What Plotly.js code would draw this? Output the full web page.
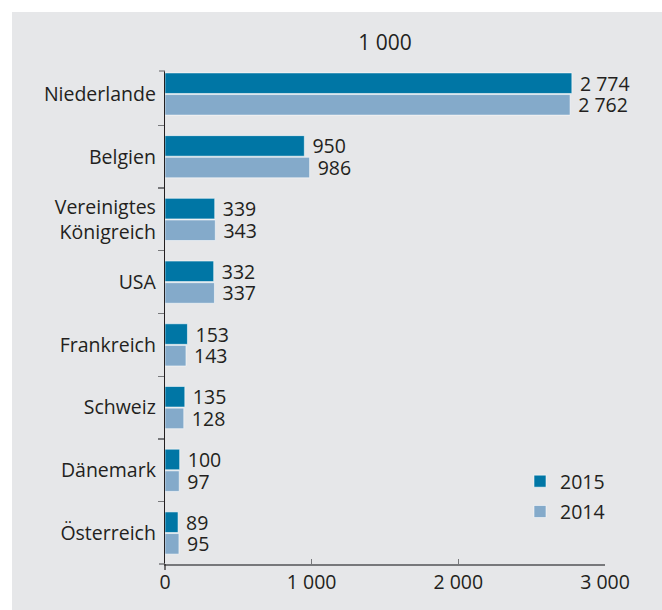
<!DOCTYPE html>
<html><head><meta charset="utf-8">
<script src="https://cdn.plot.ly/plotly-3.0.1.min.js"></script>
<style>html,body{margin:0;padding:0;background:#fff}</style>
</head><body>
<div id="chart" style="width:662px;height:610px"></div>
<script>
const categories = ["Niederlande","Belgien","Vereinigtes<br>Königreich","USA","Frankreich","Schweiz","Dänemark","Österreich"];
const values2015 = [2774, 950, 339, 332, 153, 135, 100, 89];
const values2014 = [2762, 986, 343, 337, 143, 128, 97, 95];
const xTicks = [0, 1000, 2000, 3000];
const unitTitle = "1 000";

const FONT = "Open Sans, Noto Sans, sans-serif";
const TXT = "#231f20";
const FS = 19.5;
const W = 440, H = 493;

function trace(name, vals, color, grp) {
  return {
    type: "bar", orientation: "h", name: name, legendgroup: grp,
    y: categories, x: vals,
    marker: {color: color, line: {color: "rgba(255,255,255,0.55)", width: 1}},
    text: vals, texttemplate: "\u00a0%{x:,d}", textposition: "outside",
    constraintext: "none", cliponaxis: false,
    textfont: {family: FONT, size: FS, color: TXT},
    hoverinfo: "skip"
  };
}

const data = [
  trace("2015", values2015, "#0076a5", "a"),
  trace("2014", values2014, "#84aaca", "b")
];

const layout = {
  width: 662, height: 610,
  margin: {l: 165, r: 57, t: 71, b: 46},
  paper_bgcolor: "#e6e7e9", plot_bgcolor: "rgba(0,0,0,0)",
  separators: ", ",
  font: {family: FONT, size: FS, color: TXT},
  barmode: "group", bargap: 0.31, bargroupgap: 0.05,
  showlegend: true,
  legend: {x: (520-165)/W, xanchor: "left", y: (564-462)/H, yanchor: "top",
           bgcolor: "rgba(0,0,0,0)", font: {family: FONT, size: FS, color: TXT},
           traceorder: "grouped", tracegroupgap: 2},
  title: {text: unitTitle, x: 0.5, xref: "paper", xanchor: "center",
          y: 1 - 43/610, yref: "container", yanchor: "middle",
          font: {family: FONT, size: 21, color: TXT}},
  xaxis: {range: [0, 3000], tickvals: xTicks, tickformat: ",d",
          showgrid: false, zeroline: false, showline: true, linecolor: "#77787b", linewidth: 1.5,
          ticks: "inside", ticklen: 5, tickcolor: "#77787b", tickwidth: 1.5,
          tickfont: {family: FONT, size: FS, color: TXT}, fixedrange: true},
  yaxis: {type: "category", range: [7.494, -0.367], tickson: "boundaries",
          showgrid: false, zeroline: false, showline: true, linecolor: "#231f20", linewidth: 1.2,
          ticks: "outside", ticklen: 6, tickcolor: "#77787b", tickwidth: 1.2,
          ticklabelstandoff: 4,
          tickfont: {family: FONT, size: FS, color: TXT}, fixedrange: true},
  shapes: [
    {type: "rect", xref: "paper", yref: "paper", x0: -165/W, x1: (12-165)/W, y0: -46/H, y1: 1 + 71/H,
     fillcolor: "#ffffff", line: {width: 0}, layer: "above"},
    {type: "rect", xref: "paper", yref: "paper", x0: -165/W, x1: 1 + 57/W, y0: 1 + (71-12)/H, y1: 1 + 71/H,
     fillcolor: "#ffffff", line: {width: 0}, layer: "above"},
    {type: "line", xref: "paper", yref: "paper", x0: -6/W, x1: 0, y0: 1, y1: 1,
     line: {color: "#77787b", width: 1.2}},
    {type: "line", xref: "paper", yref: "paper", x0: -6/W, x1: 0, y0: 0, y1: 0,
     line: {color: "#77787b", width: 1.5}},
    {type: "line", xref: "paper", yref: "paper", x0: 0, x1: 0, y0: 0, y1: -6/H,
     line: {color: "#231f20", width: 1.2}}
  ]
};

Plotly.newPlot("chart", data, layout, {displayModeBar: false, staticPlot: true});
</script>
</body></html>
